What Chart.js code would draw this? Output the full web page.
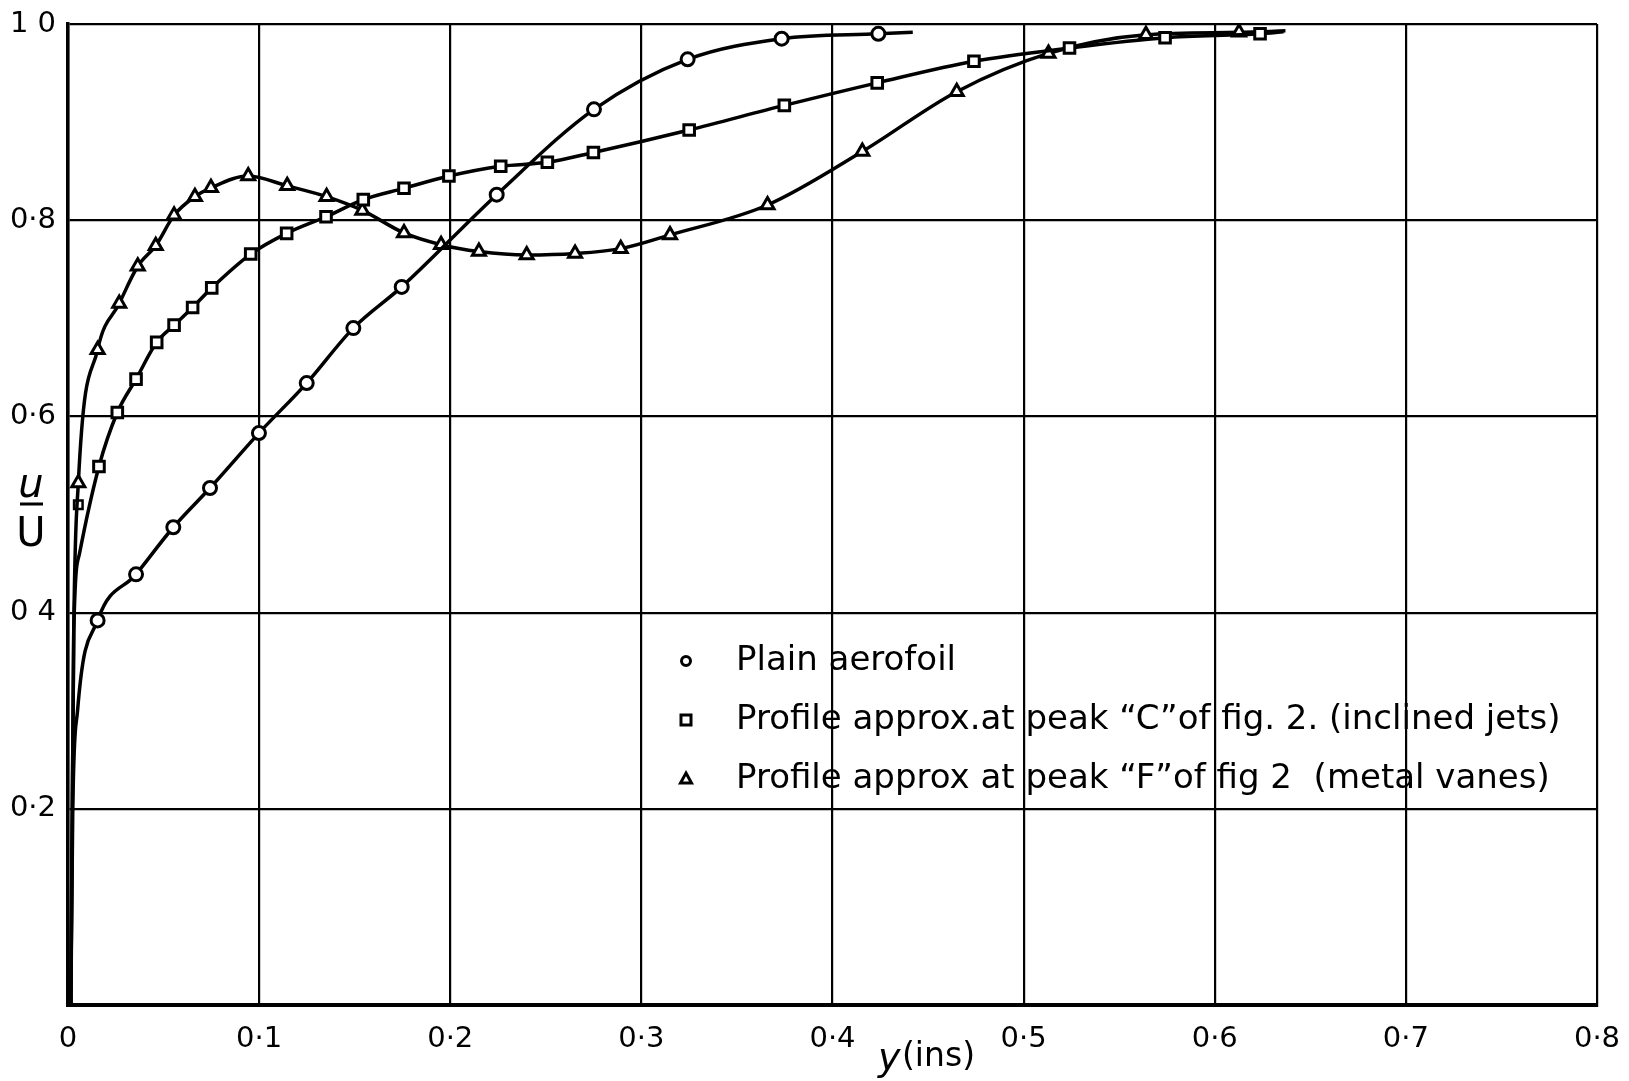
<!DOCTYPE html>
<html>
<head>
<meta charset="utf-8">
<script src="https://cdn.jsdelivr.net/npm/chart.js@4.4.0/dist/chart.umd.min.js"></script>
<style>
  body { margin: 0; background: #fff; }
  #wrap { width: 1629px; height: 1081px; }
</style>
</head>
<body>
<div id="wrap"><canvas id="profileChart" width="1629" height="1081"></canvas></div>
<script>
const FONT = "'DejaVu Sans', sans-serif";

// tick labels as lettered on the original drawing
const xTickLabels = ['0', '0·1', '0·2', '0·3', '0·4', '0·5', '0·6', '0·7', '0·8'];
const yTickLabels = ['', '0·2', '0 4', '0·6', '0·8', '1 0'];

const seriesNames = [
  'Plain aerofoil',
  'Profile approx.at peak \u201CC\u201Dof fig. 2. (inclined jets)',
  'Profile approx at peak \u201CF\u201Dof fig 2  (metal vanes)'
];

// plain aerofoil (circles); mark = 0 -> point on the faired curve only
const plainX = [0.0015, 0.0025, 0.005, 0.0155, 0.0356, 0.0551, 0.0743, 0.0999, 0.1249, 0.1493, 0.1746, 0.2243, 0.2752, 0.3242, 0.3734, 0.424, 0.442];
const plainY = [0.0, 0.2, 0.3, 0.392, 0.439, 0.487, 0.527, 0.583, 0.634, 0.690, 0.732, 0.826, 0.913, 0.964, 0.985, 0.990, 0.9915];
const plainMark = [0, 0, 0, 1, 1, 1, 1, 1, 1, 1, 1, 1, 1, 1, 1, 1, 0];

// peak C, inclined jets (squares)
const jetsX = [0.0015, 0.003, 0.006, 0.0162, 0.0258, 0.0356, 0.0464, 0.0555, 0.0652, 0.0752, 0.0956, 0.1144, 0.135, 0.1545, 0.1758, 0.1993, 0.2264, 0.2508, 0.2749, 0.325, 0.3748, 0.4234, 0.474, 0.524, 0.574, 0.6237, 0.636];
const jetsY = [0.0, 0.38, 0.46, 0.549, 0.604, 0.638, 0.6755, 0.693, 0.711, 0.731, 0.7655, 0.7866, 0.8035, 0.821, 0.8325, 0.845, 0.855, 0.859, 0.869, 0.892, 0.917, 0.940, 0.962, 0.9755, 0.986, 0.990, 0.992];
const jetsMark = [0, 0, 0, 1, 1, 1, 1, 1, 1, 1, 1, 1, 1, 1, 1, 1, 1, 1, 1, 1, 1, 1, 1, 1, 1, 1, 0];
// one square plotted off its own curve, close to the wall
const jetsStrayX = [0.0054];
const jetsStrayY = [0.51];

// peak F, metal vanes (triangles)
const vanesX = [0.0015, 0.003, 0.0054, 0.0155, 0.0268, 0.0365, 0.0459, 0.0555, 0.0664, 0.0748, 0.0943, 0.1147, 0.1353, 0.154, 0.1758, 0.1952, 0.215, 0.240, 0.2653, 0.2892, 0.315, 0.366, 0.4156, 0.465, 0.513, 0.564, 0.6127, 0.637];
const vanesY = [0.0, 0.38, 0.532, 0.668, 0.715, 0.753, 0.774, 0.805, 0.824, 0.833, 0.845, 0.835, 0.824, 0.81, 0.787, 0.775, 0.768, 0.7645, 0.766, 0.771, 0.785, 0.8155, 0.870, 0.931, 0.970, 0.989, 0.9915, 0.993];
const vanesMark = [0, 0, 1, 1, 1, 1, 1, 1, 1, 1, 1, 1, 1, 1, 1, 1, 1, 1, 1, 1, 1, 1, 1, 1, 1, 1, 1, 0];

function toPoints(xs, ys) {
  return xs.map((x, i) => ({ x: x, y: ys[i] }));
}

function series(label, xs, ys, marks, style, r) {
  return {
    label: label,
    data: toPoints(xs, ys),
    showLine: true,
    cubicInterpolationMode: 'monotone',
    borderColor: '#000',
    borderWidth: 3.5,
    pointStyle: style,
    pointRadius: ctx => marks[ctx.dataIndex] ? r : 0,
    pointBackgroundColor: '#fff',
    pointBorderColor: '#000',
    pointBorderWidth: 3
  };
}

// legend drawn inside the plot, plus the hand lettered axis titles
const drawingText = {
  id: 'drawingText',
  afterDraw(chart) {
    const ctx = chart.ctx;
    ctx.save();
    ctx.fillStyle = '#000';
    ctx.strokeStyle = '#000';

    // legend
    const rows = [661, 720, 779];
    const mx = 686;
    ctx.lineWidth = 3;
    rows.forEach((ry, i) => {
      ctx.beginPath();
      if (i === 0) {
        ctx.arc(mx, ry, 4.5, 0, Math.PI * 2);
      } else if (i === 1) {
        ctx.rect(mx - 5, ry - 5, 10, 10);
      } else {
        ctx.moveTo(mx, ry - 6);
        ctx.lineTo(mx + 5.5, ry + 4);
        ctx.lineTo(mx - 5.5, ry + 4);
        ctx.closePath();
      }
      ctx.stroke();
      ctx.font = '34px ' + FONT;
      ctx.textBaseline = 'middle';
      ctx.textAlign = 'left';
      ctx.fillText(seriesNames[i], 736, ry);
    });

    // u / U
    ctx.textAlign = 'center';
    ctx.textBaseline = 'alphabetic';
    ctx.font = 'italic 40px ' + FONT;
    ctx.fillText('u', 31, 497);
    ctx.lineWidth = 3;
    ctx.beginPath();
    ctx.moveTo(20, 504);
    ctx.lineTo(43, 504);
    ctx.stroke();
    ctx.font = '40px ' + FONT;
    ctx.fillText('U', 31, 546);

    // y (ins)
    ctx.textAlign = 'left';
    ctx.font = 'italic 38px ' + FONT;
    ctx.fillText('y', 878, 1070);
    ctx.font = '33px ' + FONT;
    ctx.fillText('(ins)', 902, 1066);
    ctx.restore();
  }
};

const chart = new Chart(document.getElementById('profileChart'), {
  type: 'scatter',
  data: {
    datasets: [
      series(seriesNames[0], plainX, plainY, plainMark, 'circle', 6.5),
      series(seriesNames[1], jetsX, jetsY, jetsMark, 'rect', 7.5),
      series(seriesNames[2], vanesX, vanesY, vanesMark, 'triangle', 7.5),
      {
        label: 'stray',
        data: toPoints(jetsStrayX, jetsStrayY),
        showLine: false,
        pointStyle: 'rect',
        pointRadius: 6,
        pointBackgroundColor: '#fff',
        pointBorderColor: '#000',
        pointBorderWidth: 2.5
      }
    ]
  },
  options: {
    responsive: false,
    animation: false,
    layout: { padding: { top: 24, right: 32, left: 0, bottom: 0 } },
    plugins: { legend: { display: false }, tooltip: { enabled: false } },
    scales: {
      x: {
        type: 'linear',
        min: 0,
        max: 0.8,
        afterFit: s => { s.height = 76; s.paddingLeft = 0; s.paddingRight = 0; },
        ticks: {
          stepSize: 0.1,
          padding: 17,
          color: '#000',
          font: { family: FONT, size: 29 },
          callback: (v, i) => xTickLabels[i]
        },
        grid: { color: '#000', lineWidth: 2.2, drawTicks: false },
        border: { display: true, color: '#000', width: 4 }
      },
      y: {
        type: 'linear',
        min: 0,
        max: 1,
        afterFit: s => { s.width = 68; s.paddingTop = 0; s.paddingBottom = 0; },
        ticks: {
          stepSize: 0.2,
          padding: 12,
          color: '#000',
          font: { family: FONT, size: 29 },
          callback: (v, i) => yTickLabels[i]
        },
        grid: { color: '#000', lineWidth: 2.2, drawTicks: false },
        border: { display: true, color: '#000', width: 3.5 }
      }
    }
  },
  plugins: [drawingText]
});
</script>
</body>
</html>
